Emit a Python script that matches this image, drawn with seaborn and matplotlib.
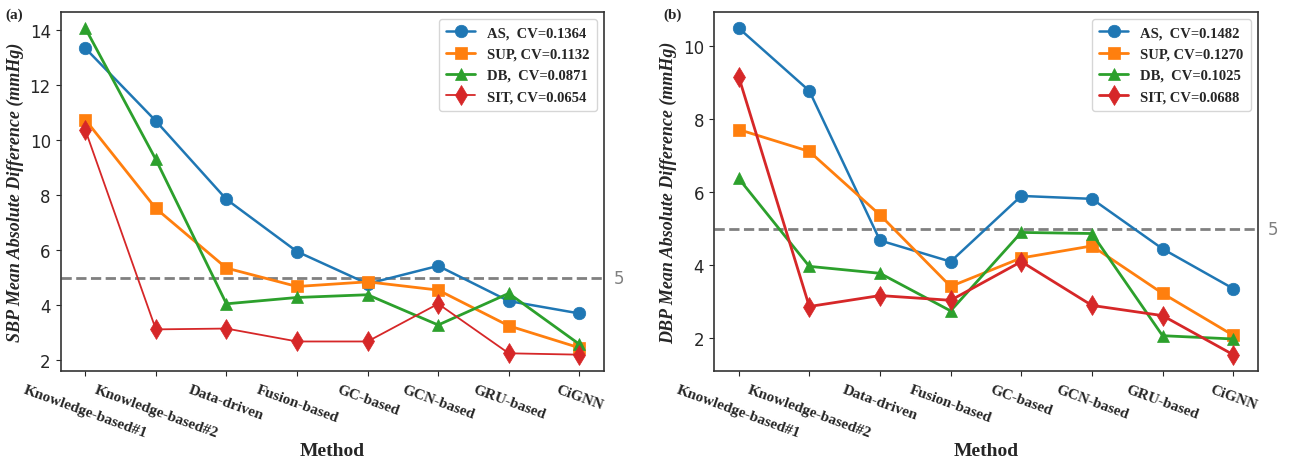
import numpy as np
import pandas as pd
import matplotlib
matplotlib.use("Agg")
import matplotlib.pyplot as plt
import seaborn as sns

methods = ["Knowledge-based#1", "Knowledge-based#2", "Data-driven", "Fusion-based",
           "GC-based", "GCN-based", "GRU-based", "CiGNN"]
series = ["AS", "SUP", "DB", "SIT"]

sbp_as = [13.35, 10.70, 7.85, 5.95, 4.78, 5.43, 4.15, 3.70]
sbp_sup = [10.75, 7.52, 5.35, 4.68, 4.85, 4.55, 3.25, 2.45]
sbp_db = [14.08, 9.30, 4.05, 4.28, 4.38, 3.28, 4.43, 2.58]
sbp_sit = [10.38, 3.12, 3.15, 2.68, 2.68, 4.05, 2.25, 2.20]
sbp_cv = ["0.1364", "0.1132", "0.0871", "0.0654"]

dbp_as = [10.50, 8.78, 4.68, 4.10, 5.90, 5.82, 4.45, 3.36]
dbp_sup = [7.72, 7.12, 5.38, 3.42, 4.20, 4.53, 3.23, 2.08]
dbp_db = [6.38, 3.97, 3.78, 2.75, 4.90, 4.87, 2.07, 1.98]
dbp_sit = [9.17, 2.87, 3.17, 3.04, 4.10, 2.90, 2.62, 1.55]
dbp_cv = ["0.1482", "0.1270", "0.1025", "0.0688"]

threshold = 5

sns.set_style("ticks")
plt.rcParams['font.family'] = ['DejaVu Sans']

colors = ["#1f77b4", "#ff7f0e", "#2ca02c", "#d62728"]
markers = ["o", "s", "^", "d"]
serif = "Liberation Serif"

fig = plt.figure(figsize=(12.91, 4.60), dpi=100)
ax1 = fig.add_axes([0.0469, 0.1913, 0.4210, 0.7810])
ax2 = fig.add_axes([0.5530, 0.1913, 0.4214, 0.7810])

def make_df(vals, cvs):
    rows = []
    for s, v, cv in zip(series, vals, cvs):
        lab = f"{s},  CV={cv}" if len(s) == 2 else f"{s}, CV={cv}"
        for m, y in zip(methods, v):
            rows.append({"Method": m, "value": y, "series": lab})
    return pd.DataFrame(rows)

panels = [
    (ax1, make_df([sbp_as, sbp_sup, sbp_db, sbp_sit], sbp_cv),
     "SBP Mean Absolute Difference (mmHg)", "(a)", 0.004, [1.8, 2.0, 2.0, 1.3]),
    (ax2, make_df([dbp_as, dbp_sup, dbp_db, dbp_sit], dbp_cv),
     "DBP Mean Absolute Difference (mmHg)", "(b)", 0.514, [1.8, 2.0, 2.0, 2.0]),
]

for ax, df, ylab, tag, tagx, lws in panels:
    labels = list(dict.fromkeys(df["series"]))
    for i, lab in enumerate(labels):
        sub = df[df["series"] == lab]
        sns.lineplot(data=sub, x="Method", y="value", ax=ax, color=colors[i],
                     marker=markers[i], markersize=9 if markers[i] != "d" else 10,
                     markeredgewidth=0.5, markeredgecolor=colors[i],
                     linewidth=lws[i], label=lab, sort=False)
    ax.axhline(threshold, color="gray", linestyle="--", linewidth=2, zorder=0)
    ax.text(1.018, threshold, str(threshold), transform=ax.get_yaxis_transform(),
            color="gray", fontsize=12, va="center", ha="left")
    ax.set_ylabel(ylab, fontfamily=serif, fontweight="bold", fontstyle="italic", fontsize=13)
    ax.set_xlabel("Method", fontfamily=serif, fontweight="bold", fontsize=14, labelpad=2)
    ax.tick_params(axis="y", labelsize=12)
    ax.tick_params(axis="x", pad=5)
    ax.set_xticks(range(len(methods)))
    ax.set_xticklabels(methods, rotation=-20, ha="center", rotation_mode="default",
                       fontfamily=serif, fontweight="bold", fontsize=11)
    ax.margins(x=0.05)
    leg = ax.legend(loc="upper right", prop={"family": serif, "weight": "bold", "size": 10.5},
                    frameon=True, handlelength=2.0, handletextpad=0.8,
                    borderpad=0.5, labelspacing=0.55)
    for sp in ax.spines.values():
        sp.set_color("#333333")
        sp.set_linewidth(1.2)
    fig.text(tagx, 0.966, tag, fontfamily=serif,
             fontweight="bold", fontsize=11, ha="left", va="center")

ax1.set_yticks([2, 4, 6, 8, 10, 12, 14])
ax2.set_yticks([2, 4, 6, 8, 10])

fig.savefig("out.png", dpi=100)
